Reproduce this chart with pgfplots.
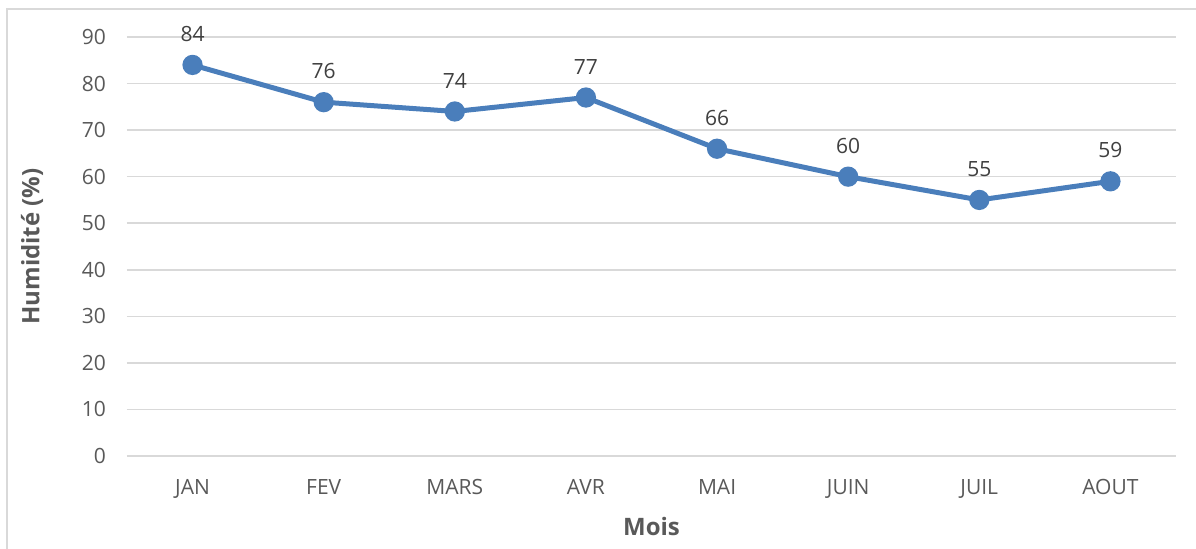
\documentclass[border=0pt]{standalone}
\usepackage{pgfplots}
\pgfplotsset{compat=1.18}
\usepackage{fontspec}
\setmainfont{Open Sans}
\definecolor{lineblue}{HTML}{4A7EBB}
\definecolor{gridgray}{HTML}{D9D9D9}
\definecolor{txt}{HTML}{595959}
\definecolor{lbl}{HTML}{404040}
\begin{document}
\begin{tikzpicture}
% page = 1196x549 px at 0.5pt per px, axis box placed at the origin
\path[use as bounding box] (-63.5pt,-46.5pt) rectangle (534.5pt,228pt);
\draw[gridgray, line width=0.8pt] (-60pt,-60pt) -- (-60pt,223.5pt) -- (560pt,223.5pt);
\begin{axis}[
  at={(0,0)}, anchor=south west,
  scale only axis, width=524.5pt, height=209.5pt,
  xmin=-0.5, xmax=7.5, ymin=0, ymax=90,
  xtick=data,
  xticklabels={JAN,FEV,MARS,AVR,MAI,JUIN,JUIL,AOUT},
  ytick={0,10,...,90},
  axis line style={draw=none}, major tick length=0pt,
  ymajorgrids=true, grid style={gridgray, line width=0.8pt},
  /pgf/number format/assume math mode=true,
  tick label style={font=\fontsize{10.5}{12}\selectfont, text=txt},
  xticklabel style={yshift=-8pt},
  yticklabel style={xshift=-7pt},
  xlabel={Mois}, ylabel={Humidité (\%)},
  label style={font=\fontsize{12}{14}\selectfont\bfseries, text=txt},
  xlabel style={at={([yshift=-35.5pt]rel axis cs:0.5,0)}, anchor=center},
  ylabel style={at={([xshift=-47.5pt]rel axis cs:0,0.5)}, anchor=center},
  nodes near coords,
  every node near coord/.append style={anchor=center, yshift=15.5pt,
    font=\fontsize{10.5}{12}\selectfont, text=lbl},
]
\addplot[lineblue, line width=2.5pt, mark=*, mark size=3.8pt,
  mark options={fill=lineblue, draw=none}]
  coordinates {(0,84) (1,76) (2,74) (3,77) (4,66) (5,60) (6,55) (7,59)};
\end{axis}
\end{tikzpicture}
\end{document}
